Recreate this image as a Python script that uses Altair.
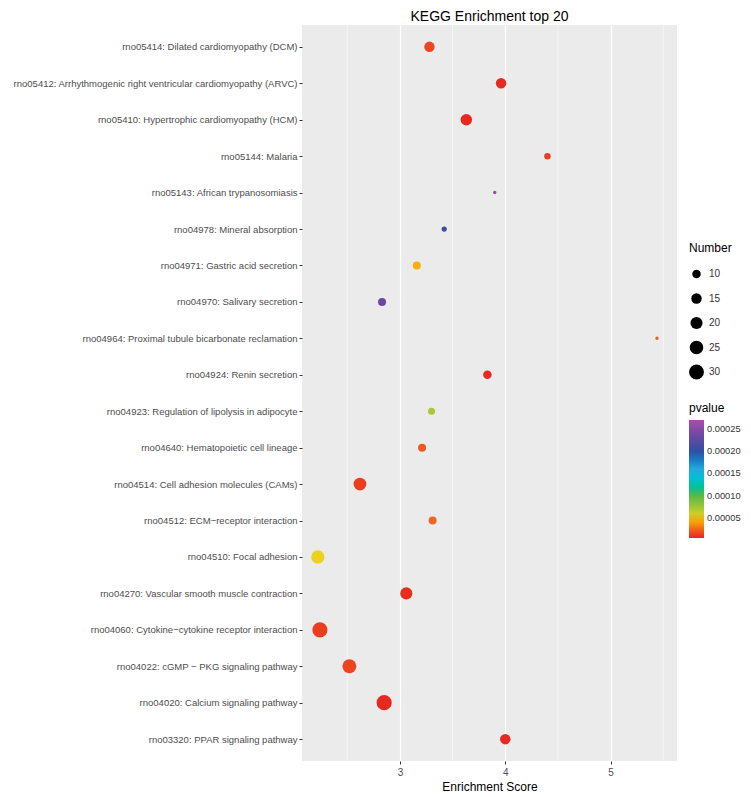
import altair as alt
import pandas as pd

terms = [
    "rno05414: Dilated cardiomyopathy (DCM)",
    "rno05412: Arrhythmogenic right ventricular cardiomyopathy (ARVC)",
    "rno05410: Hypertrophic cardiomyopathy (HCM)",
    "rno05144: Malaria",
    "rno05143: African trypanosomiasis",
    "rno04978: Mineral absorption",
    "rno04971: Gastric acid secretion",
    "rno04970: Salivary secretion",
    "rno04964: Proximal tubule bicarbonate reclamation",
    "rno04924: Renin secretion",
    "rno04923: Regulation of lipolysis in adipocyte",
    "rno04640: Hematopoietic cell lineage",
    "rno04514: Cell adhesion molecules (CAMs)",
    "rno04512: ECM\u2212receptor interaction",
    "rno04510: Focal adhesion",
    "rno04270: Vascular smooth muscle contraction",
    "rno04060: Cytokine\u2212cytokine receptor interaction",
    "rno04022: cGMP \u2212 PKG signaling pathway",
    "rno04020: Calcium signaling pathway",
    "rno03320: PPAR signaling pathway",
]
enrichment = [3.28, 3.96, 3.63, 4.40, 3.90, 3.42, 3.16, 2.83, 5.44, 3.83,
              3.30, 3.21, 2.62, 3.31, 2.22, 3.06, 2.24, 2.52, 2.85, 4.00]
numbers = [15, 15, 18, 6, 2, 4, 9, 9, 2, 10,
           7, 9, 22, 9, 24, 20, 31, 26, 31, 15]
pvalues = [0.000015, 0.000006, 0.000006, 0.000012, 0.00026, 0.000205, 0.000043,
           0.000235, 0.000025, 0.000006, 0.00007, 0.000022, 0.000012, 0.000028,
           0.000052, 0.000007, 0.000012, 0.000014, 0.000006, 0.000006]

minor_x = [2.5, 3.5, 4.5, 5.5]

color_domain = [0.000005, 0.00003, 0.00005, 0.00007, 0.0001, 0.00015, 0.0002, 0.000235, 0.00027]
color_range = ["#E8251F", "#F26A21", "#F5D21A", "#A8C83A", "#57B947", "#3DBDE6",
               "#2E4FA3", "#6A48A0", "#AA4DA6"]

df = pd.DataFrame({"term": terms, "score": enrichment, "Number": numbers, "pvalue": pvalues})
mdf = pd.DataFrame({"m": minor_x})

FONT = "Liberation Sans"

xscale = alt.Scale(domain=[2.07, 5.63], nice=False, zero=False)

minor = alt.Chart(mdf).mark_rule(color="white", strokeWidth=0.6).encode(
    x=alt.X("m:Q", scale=xscale)
)

points = alt.Chart(df).mark_circle(opacity=1).encode(
    x=alt.X("score:Q", scale=xscale,
            axis=alt.Axis(values=[3, 4, 5], format="d", title="Enrichment Score", grid=True,
                          labelPadding=3, titlePadding=4, titleFontSize=12)),
    y=alt.Y("term:N", sort=terms, scale=alt.Scale(padding=0.6),
            axis=alt.Axis(title=None, labelLimit=400, labelPadding=2, labelFontSize=9.5)),
    size=alt.Size("Number:Q",
                  scale=alt.Scale(domain=[2, 31], range=[12, 230], zero=False),
                  legend=alt.Legend(values=[10, 15, 20, 25, 30], orient="none",
                                    legendX=387, legendY=218, titlePadding=11,
                                    symbolFillColor="black", symbolStrokeWidth=0,
                                    symbolOpacity=1, clipHeight=16, rowPadding=8.5,
                                    labelOffset=5)),
    color=alt.Color("pvalue:Q",
                    scale=alt.Scale(domain=color_domain, range=color_range),
                    legend=alt.Legend(orient="none", legendX=387, legendY=378,
                                      values=[0.00005, 0.0001, 0.00015, 0.0002, 0.00025],
                                      format=".5f", gradientLength=118, labelLimit=60,
                                      gradientThickness=15, titlePadding=5,
                                      labelOffset=3, labelFontSize=9.3,
                                      gradientStrokeWidth=0)),
)

chart = (minor + points).properties(
    width=375, height=736,
    title=alt.TitleParams("KEGG Enrichment top 20", fontSize=14, fontWeight="normal",
                          anchor="middle", offset=1, font=FONT, color="black"),
    autosize=alt.AutoSizeParams(type="none"),
    padding={"left": 294, "top": 17, "right": 66, "bottom": 38},
).configure_view(
    fill="#EBEBEB", stroke=None
).configure_axis(
    gridColor="white", gridWidth=1.2, domain=False, tickColor="#333333", tickSize=3,
    labelColor="#4D4D4D", labelFont=FONT, labelFontSize=10,
    titleFont=FONT, titleFontWeight="normal", titleColor="black",
).configure_legend(
    titleFont=FONT, titleFontSize=12, titleFontWeight="normal", titleColor="black",
    labelFont=FONT, labelFontSize=10, labelColor="#333333",
)

chart.save("out.html", embed_options={"renderer": "svg", "actions": False})
